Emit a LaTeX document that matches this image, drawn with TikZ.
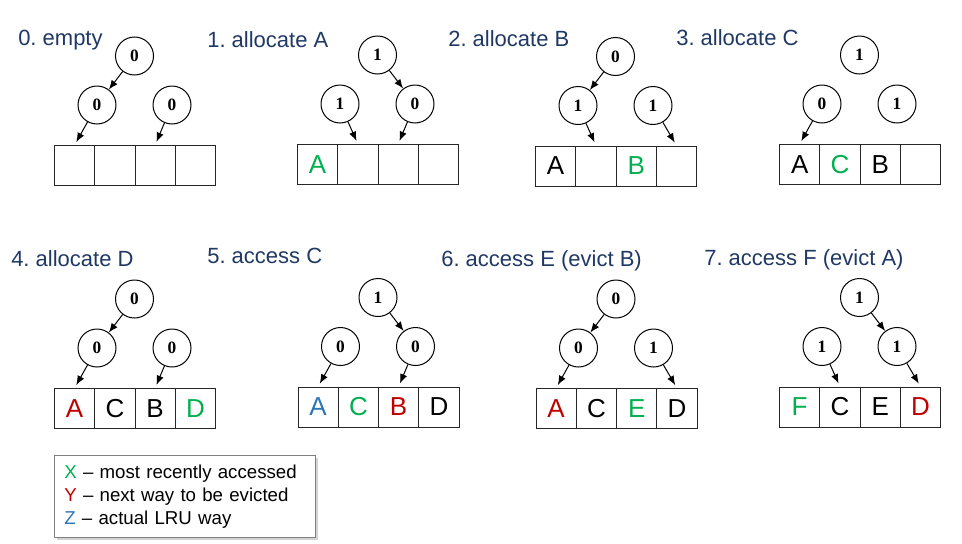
\documentclass[tikz,border=0pt]{standalone}
\usepackage{fontspec}
\setmainfont{Liberation Sans}
\newfontfamily\bitfont{Liberation Serif}
\usetikzlibrary{arrows.meta, positioning, shadows}
\definecolor{titleblue}{RGB}{31, 56, 100}
\definecolor{mrugreen}{RGB}{0, 176, 80}
\definecolor{victimred}{RGB}{192, 0, 0}
\definecolor{lrublue}{RGB}{46, 117, 182}
\newcommand{\mru}[1]{\textcolor{mrugreen}{#1}}
\newcommand{\victim}[1]{\textcolor{victimred}{#1}}
\newcommand{\lruway}[1]{\textcolor{lrublue}{#1}}

\begin{document}
\frenchspacing
\begin{tikzpicture}[x=0.75pt, y=-0.75pt,
    bitnode/.style={circle, draw, line width=0.75pt, minimum size=28.5pt, inner sep=0pt,
        font=\bitfont\bfseries\fontsize{13}{13}\selectfont},
    cellbox/.style={draw=black!85, line width=0.8pt, minimum width=30.19pt, minimum height=30pt,
        inner sep=0pt, anchor=north west, font=\fontsize{19.5}{19.5}\selectfont},
    steptitle/.style={anchor=base west, inner sep=0pt, text=titleblue,
        font=\fontsize{16.5}{16.5}\selectfont},
    bitarrow/.style={-{Latex[length=7pt,width=5.5pt]}, line width=0.75pt},
    cellarrow/.style={bitarrow, shorten >=2.5pt}]
\useasboundingbox (0,0) rectangle (962,543);

\foreach \p/\ax/\ay/\r/\l/\q/\ca/\cb/\cc/\cd in {
    p0/54/145/0/0/0/{}/{}/{}/{},
    p1/297/144/1/1/0/{\mru{A}}/{}/{}/{},
    p2/535/145.5/0/1/1/A/{}/{\mru{B}}/{},
    p3/779/144/1/0/1/A/{\mru{C}}/B/{},
    p4/54/388/0/0/0/{\victim{A}}/C/B/{\mru{D}},
    p5/297.5/386.5/1/0/0/{\lruway{A}}/{\mru{C}}/{\victim{B}}/D,
    p6/535.5/388/0/0/1/{\victim{A}}/C/{\mru{E}}/D,
    p7/779/386.5/1/1/1/{\mru{F}}/C/E/{\victim{D}}} {
  \node[bitnode] (\p-root) at (\ax+80.5, \ay-89) {\r};
  \node[bitnode] (\p-left) at (\ax+43, \ay-40) {\l};
  \node[bitnode] (\p-right) at (\ax+118, \ay-40) {\q};
  \node[cellbox] (\p-c0) at (\ax, \ay) {\ca};
  \node[cellbox] (\p-c1) at (\ax+40.25, \ay) {\cb};
  \node[cellbox] (\p-c2) at (\ax+80.5, \ay) {\cc};
  \node[cellbox] (\p-c3) at (\ax+120.75, \ay) {\cd};
}

\node[steptitle] (p0-title) at (18,45.5) {0. empty};
\node[steptitle] (p1-title) at (207,47) {1. allocate A};
\node[steptitle] (p2-title) at (448,46.5) {2. allocate B};
\node[steptitle] (p3-title) at (676,45) {3. allocate C};
\node[steptitle] (p4-title) at (11,266) {4. allocate D};
\node[steptitle] (p5-title) at (207,263) {5. access C};
\node[steptitle] (p6-title) at (441,266.5) {6. access E (evict B)};
\node[steptitle] (p7-title) at (704,265) {7. access F (evict A)};

\draw[bitarrow] (p0-root) -- (p0-left);
\draw[cellarrow] (p0-left) -- (p0-c0.north);
\draw[cellarrow] (p0-right) -- (p0-c2.north);

\draw[bitarrow] (p1-root) -- (p1-right);
\draw[cellarrow] (p1-left) -- (p1-c1.north);
\draw[cellarrow] (p1-right) -- (p1-c2.north);

\draw[bitarrow] (p2-root) -- (p2-left);
\draw[cellarrow] (p2-left) -- (p2-c1.north);
\draw[cellarrow] (p2-right) -- (p2-c3.north);

\draw[cellarrow] (p3-left) -- (p3-c0.north);

\draw[bitarrow] (p4-root) -- (p4-left);
\draw[cellarrow] (p4-left) -- (p4-c0.north);
\draw[cellarrow] (p4-right) -- (p4-c2.north);

\draw[bitarrow] (p5-root) -- (p5-right);
\draw[cellarrow] (p5-left) -- (p5-c0.north);
\draw[cellarrow] (p5-right) -- (p5-c2.north);

\draw[bitarrow] (p6-root) -- (p6-left);
\draw[cellarrow] (p6-left) -- (p6-c0.north);
\draw[cellarrow] (p6-right) -- (p6-c3.north);

\draw[bitarrow] (p7-root) -- (p7-right);
\draw[cellarrow] (p7-left) -- (p7-c1.north);
\draw[cellarrow] (p7-right) -- (p7-c3.north);

\node[draw=black!50, line width=0.75pt, fill=white, anchor=north west,
      drop shadow={shadow xshift=2pt, shadow yshift=-2pt, opacity=0.35},
      minimum height=61.5pt, inner xsep=7.4pt, text width=181pt, align=left,
      font=\fontsize{14}{17.3}\selectfont] (legend) at (54,455)
  {\mru{X} \textendash{} most recently accessed\\
   \victim{Y} \textendash{} next way to be evicted\\
   \lruway{Z} \textendash{} actual LRU way};
\end{tikzpicture}
\end{document}
